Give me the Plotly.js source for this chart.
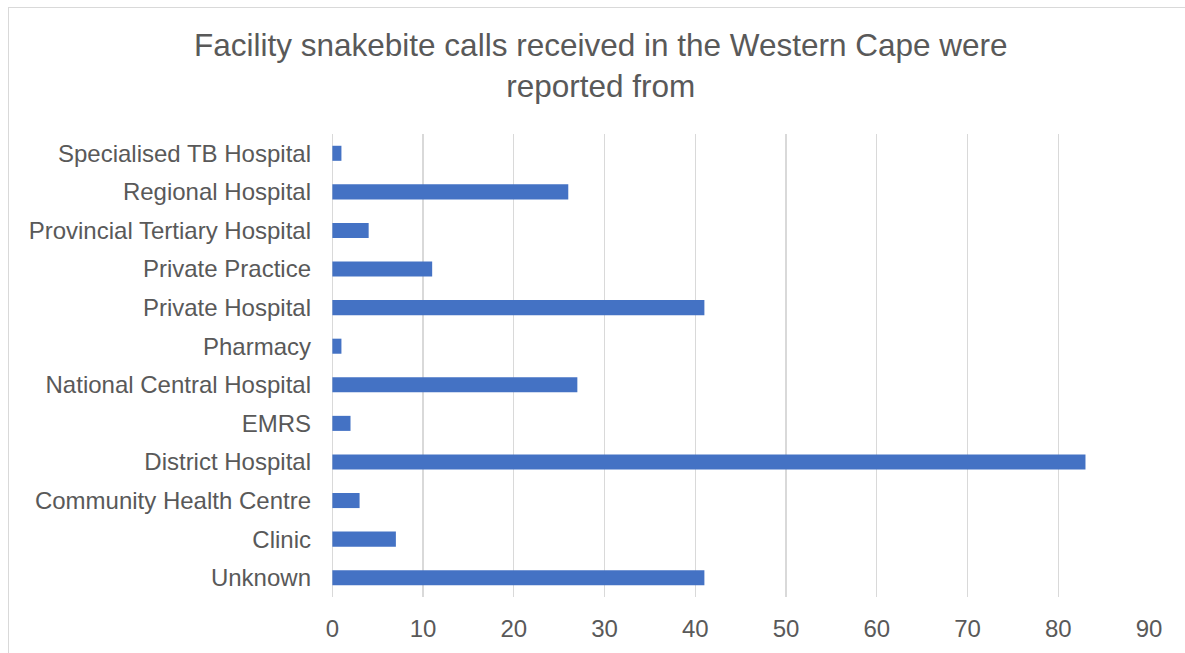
<!DOCTYPE html>
<html>
<head>
<meta charset="utf-8">
<script src="https://cdn.plot.ly/plotly-3.0.1.min.js"></script>
<style>
  html, body { margin: 0; padding: 0; background: #ffffff; overflow: hidden; }
  #chart { width: 1185px; height: 653px; }
  #frame { position: absolute; left: 8px; top: 7px; width: 1400px; height: 900px;
           border: 1px solid #d9d9d9; pointer-events: none; }
</style>
</head>
<body>
<div id="chart"></div>
<div id="frame"></div>
<script>
const titleText = "Facility snakebite calls received in the Western Cape were<br>reported from";
const categories = [
  "Unknown", "Clinic", "Community Health Centre", "District Hospital", "EMRS",
  "National Central Hospital", "Pharmacy", "Private Hospital", "Private Practice",
  "Provincial Tertiary Hospital", "Regional Hospital", "Specialised TB Hospital"
];
const calls = [41, 7, 3, 83, 2, 27, 1, 41, 11, 4, 26, 1];
const xTicks = [0, 10, 20, 30, 40, 50, 60, 70, 80, 90];

const font = "Liberation Sans, Arial, sans-serif";
const grey = "#595959";

const trace = {
  type: "bar",
  orientation: "h",
  x: calls,
  y: categories,
  marker: { color: "#4472C4", line: { width: 0 } },
  hoverinfo: "x+y"
};

const layout = {
  width: 1185,
  height: 653,
  paper_bgcolor: "rgba(0,0,0,0)",
  plot_bgcolor: "rgba(0,0,0,0)",
  margin: { l: 331, r: 36, t: 134, b: 56 },
  showlegend: false,
  bargap: 0.61,
  font: { family: font, color: grey, size: 24 },
  title: {
    text: titleText,
    x: 0.507, xref: "container", xanchor: "center",
    y: 1 - 56 / 653, yref: "container", yanchor: "middle",
    font: { family: font, size: 31.5, color: grey }
  },
  xaxis: {
    range: [-0.15, 90],
    tickvals: xTicks,
    ticktext: xTicks.map(String),
    showgrid: true,
    gridcolor: "#d9d9d9",
    gridwidth: 1.3,
    zeroline: true,
    zerolinecolor: "#d9d9d9",
    zerolinewidth: 1.3,
    showline: false,
    ticks: "",
    ticklabelstandoff: 15,
    tickfont: { family: font, size: 24, color: grey },
    fixedrange: true
  },
  yaxis: {
    type: "category",
    categoryorder: "array",
    categoryarray: categories,
    showgrid: false,
    zeroline: false,
    showline: false,
    ticks: "",
    ticklabelstandoff: 19,
    tickfont: { family: font, size: 24, color: grey },
    fixedrange: true
  }
};

Plotly.newPlot("chart", [trace], layout, { displayModeBar: false, staticPlot: true });
</script>
</body>
</html>
